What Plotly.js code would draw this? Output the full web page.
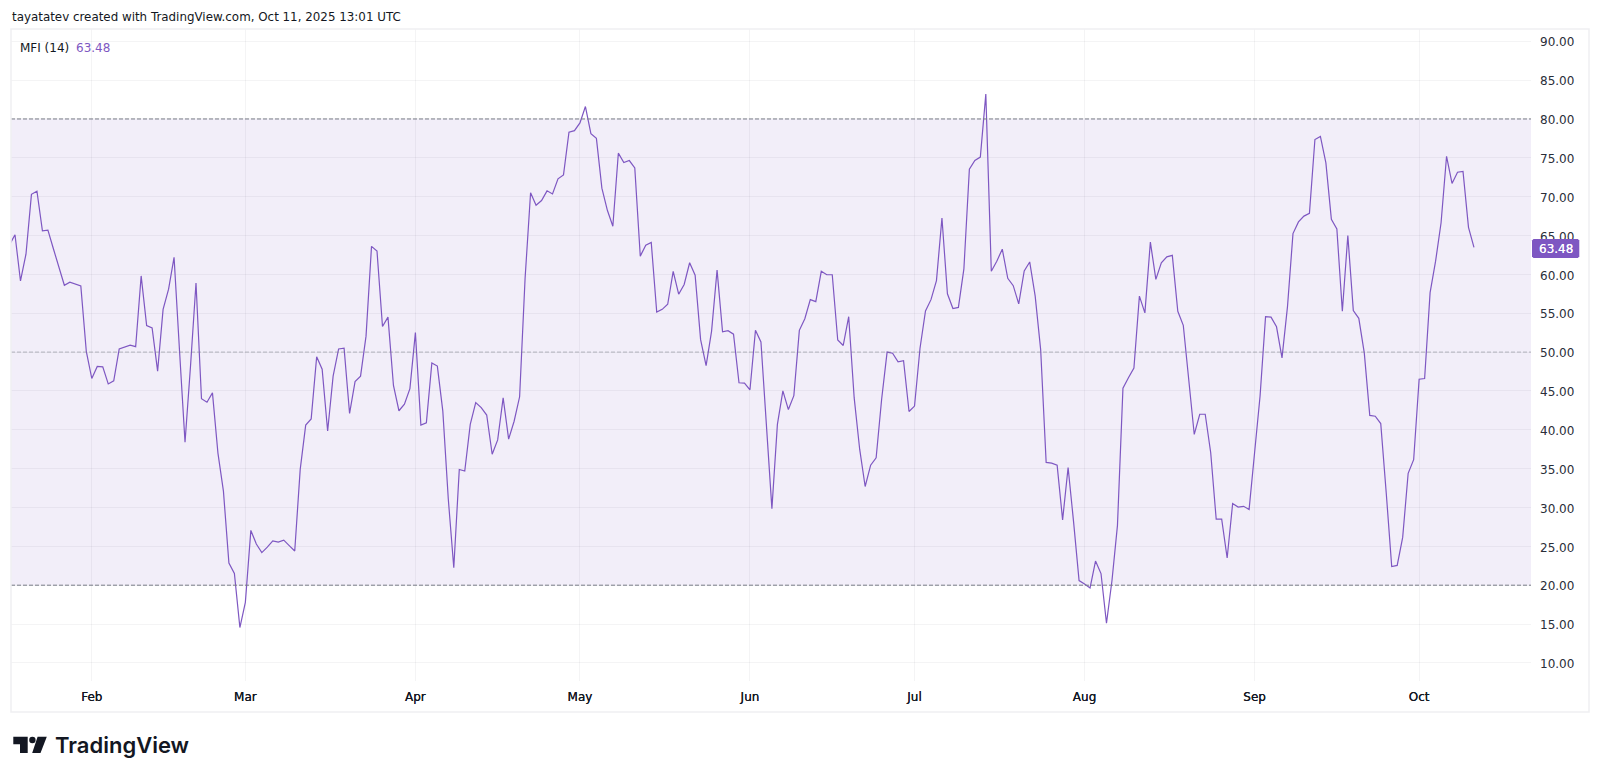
<!DOCTYPE html>
<html><head><meta charset="utf-8">
<script src="https://cdn.plot.ly/plotly-3.0.1.min.js"></script>
<style>html,body{margin:0;padding:0;background:#fff}#c{width:1600px;height:778px}</style>
</head><body><div id="c"></div>
<script>
const yearPrefix = "2025";
const mfiJan = [63.8,65.1,59.15,62.6,70.3,70.7,65.6,65.7,63.3,61.1,58.6,59.0,58.8,58.5,50.1];
const mfiFeb = [46.6,48.15,48.1,45.9,46.3,50.4,50.6,50.9,50.7,59.8,53.4,53.1,47.55,55.5,58.1,62.2,50.1,38.4,48.2,58.9,44.0,43.55,44.75,37.0,32.1,22.85,21.5,14.55];
const mfiMar = [17.8,27.05,25.3,24.2,24.9,25.7,25.55,25.8,25.1,24.4,34.9,40.6,41.4,49.4,47.8,39.85,46.9,50.4,50.5,42.1,46.2,46.9,52.05,63.6,63.0,53.3,54.5,45.7,42.45,43.3,45.3];
const mfiApr = [52.5,40.6,40.9,48.6,48.2,42.4,31.05,22.25,34.9,34.7,40.7,43.5,42.85,41.9,36.85,38.7,44.1,38.8,41.1,44.25,59.5,70.5,68.9,69.5,70.75,70.35,72.3,72.8,78.3,78.5];
const mfiMay = [79.5,81.6,78.1,77.5,71.1,68.25,66.2,75.6,74.4,74.65,73.7,62.35,63.75,64.1,55.15,55.5,56.15,60.4,57.45,58.7,61.5,59.9,51.6,48.25,52.7,60.55,52.6,52.75,52.3,46.05,46.0];
const mfiJun = [45.15,52.8,51.3,40.05,29.85,40.7,45.0,42.6,44.4,52.8,54.3,56.75,56.5,60.4,59.95,59.95,51.55,50.85,54.55,44.1,37.5,32.7,35.45,36.4,43.9,50.0,49.85,48.75,48.9,42.35];
const mfiJul = [43.05,50.5,55.3,56.75,59.2,67.25,57.5,55.6,55.75,60.7,73.55,74.65,75.1,83.2,60.4,61.7,63.25,59.5,58.55,56.2,60.45,61.6,57.2,50.3,35.8,35.7,35.45,28.4,35.15,28.15,20.6];
const mfiAug = [20.15,19.65,23.1,21.5,15.1,20.6,27.7,45.35,46.7,47.95,57.2,55.05,64.15,59.35,61.5,62.25,62.45,55.25,53.45,46.05,39.4,42.0,42.0,37.05,28.5,28.5,23.5,30.5,30.05,30.15,29.75];
const mfiSep = [37.05,44.35,54.55,54.5,53.25,49.25,55.85,65.25,66.75,67.5,67.85,77.35,77.75,74.35,67.1,65.85,55.25,65.0,55.35,54.35,49.9,41.85,41.75,40.8,31.9,22.4,22.55,26.15,34.4,36.15];
const mfiOct = [46.5,46.6,57.65,61.7,66.65,75.2,71.7,73.15,73.25,66.05,63.48];
const monthNames = ["Feb","Mar","Apr","May","Jun","Jul","Aug","Sep","Oct"];
const monthTicks = ["2025-02-01","2025-03-01","2025-04-01","2025-05-01","2025-06-01","2025-07-01","2025-08-01","2025-09-01","2025-10-01"];
const yTicks = [10,15,20,25,30,35,40,45,50,55,60,65,70,75,80,85,90];
const bandHigh = 80, bandMid = 50, bandLow = 20;
const lastValue = 63.48;

const segments = [["01",17,mfiJan],["02",1,mfiFeb],["03",1,mfiMar],["04",1,mfiApr],["05",1,mfiMay],["06",1,mfiJun],["07",1,mfiJul],["08",1,mfiAug],["09",1,mfiSep],["10",1,mfiOct]];
const dates = [], values = [];
segments.forEach(([m,start,arr]) => arr.forEach((v,i) => {
  dates.push(yearPrefix+"-"+m+"-"+String(start+i).padStart(2,"0"));
  values.push(v);
}));

const W=1600,H=778,L=11,R=1531,T=29,B=681;
const px = x => (x-L)/(R-L);
const py = y => (B-y)/(B-T);
const ink = "#131722", purple = "#7e57c2", grid = "rgba(42,46,57,0.05)";
const fontFam = '"DejaVu Sans", sans-serif';

const hline = (v,color) => ({type:"line",xref:"paper",yref:"y",x0:0,x1:1,y0:v,y1:v,layer:"above",
  line:{color:color,width:1,dash:"4px,2px"}});
function pathPx(points){ return "M"+points.map(p=>px(p[0])+","+py(p[1])).join("L")+"Z"; }

const layout = {
  width:W,height:H,
  margin:{l:L,r:W-R,t:T,b:H-B,pad:0},
  paper_bgcolor:"#fff",plot_bgcolor:"#fff",
  showlegend:false,
  font:{family:fontFam,size:12,color:ink},
  xaxis:{type:"date",range:["2025-01-17 06:30","2025-10-21 09:30"],tickmode:"array",tickvals:monthTicks,ticktext:monthNames,
    showgrid:true,gridcolor:grid,gridwidth:1,zeroline:false,showline:false,ticks:"",ticklabelstandoff:7,
    tickfont:{family:fontFam,size:12,color:ink,shadow:"0 0 0.6px #131722"},fixedrange:true},
  yaxis:{side:"right",range:[7.67,91.58],tickmode:"array",tickvals:yTicks,tickformat:".2f",
    showgrid:true,gridcolor:grid,gridwidth:1,zeroline:false,showline:false,ticks:"",ticklabelstandoff:8,ticklabelshift:1,
    tickfont:{family:fontFam,size:12,color:"#2a2e39"},fixedrange:true},
  shapes:[
    {type:"rect",xref:"paper",yref:"y",x0:0,x1:1,y0:bandLow,y1:bandHigh,layer:"below",line:{width:0},fillcolor:"rgba(126,87,194,0.1)"},
    hline(bandHigh,"#787b86"),hline(bandLow,"#787b86"),hline(bandMid,"rgba(120,123,134,0.5)"),
    {type:"rect",xref:"paper",yref:"paper",x0:0,x1:px(1589),y0:py(712),y1:1,layer:"above",line:{color:"#f0f0f2",width:1.5},fillcolor:"rgba(0,0,0,0)"},
    {type:"path",xref:"paper",yref:"paper",layer:"above",line:{width:0},fillcolor:purple,
      path:pathPx([[1533.5,239],[1577.8,239],[1579.3,240.5],[1579.3,256.5],[1577.8,258],[1533.5,258],[1532,256.5],[1532,240.5]])},
    {type:"path",xref:"paper",yref:"paper",layer:"above",line:{width:0},fillcolor:"#131722",
      path:pathPx([[13.3,736.7],[27.7,736.7],[27.7,753],[20,753],[20,744.3],[13.3,744.3]])},
    {type:"circle",xref:"paper",yref:"paper",layer:"above",line:{width:0},fillcolor:"#131722",
      x0:px(29.2),x1:px(35.6),y0:py(743.2),y1:py(736.8)},
    {type:"path",xref:"paper",yref:"paper",layer:"above",line:{width:0},fillcolor:"#131722",
      path:pathPx([[37.6,736.7],[46.8,736.7],[40.5,753],[32.2,753]])},
  ],
  annotations:[
    {xref:"paper",yref:"paper",x:px(9.5),y:py(17),xanchor:"left",yanchor:"middle",showarrow:false,
      text:"tayatatev created with TradingView.com, Oct 11, 2025 13:01 UTC",font:{family:fontFam,size:11.88,color:ink}},
    {xref:"paper",yref:"paper",x:px(17.5),y:py(48),xanchor:"left",yanchor:"middle",showarrow:false,
      text:"MFI (14)",font:{family:fontFam,size:12,color:ink}},
    {xref:"paper",yref:"paper",x:px(74),y:py(48),xanchor:"left",yanchor:"middle",showarrow:false,
      text:String(lastValue),font:{family:fontFam,size:12,color:purple}},
    {xref:"paper",yref:"paper",x:px(1555.6),y:py(248.5),xanchor:"center",yanchor:"middle",showarrow:false,
      text:String(lastValue),font:{family:fontFam,size:12,color:"#ffffff",shadow:"0 0 0.6px #ffffff"}},
    {xref:"paper",yref:"paper",x:px(52.5),y:py(745),xanchor:"left",yanchor:"middle",showarrow:false,
      text:"TradingView",font:{family:"Inter, sans-serif",size:22,color:ink,weight:600}},
  ]
};

Plotly.newPlot("c",[{type:"scatter",mode:"lines",x:dates,y:values,line:{color:purple,width:1.2,shape:"linear"},hoverinfo:"skip",cliponaxis:true}],layout,{displayModeBar:false,staticPlot:true});
</script></body></html>
